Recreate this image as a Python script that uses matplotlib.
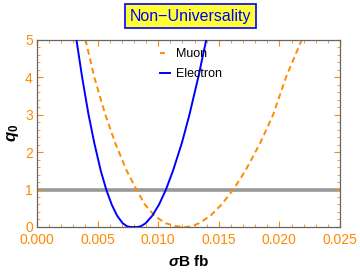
import matplotlib.pyplot as plt
from matplotlib.ticker import MultipleLocator

plt.rcParams['font.family'] = ['Liberation Sans', 'DejaVu Sans']
plt.rcParams['mathtext.fontset'] = 'custom'
plt.rcParams['mathtext.rm'] = 'Liberation Sans'
plt.rcParams['mathtext.it'] = 'Liberation Sans:italic'
plt.rcParams['mathtext.bf'] = 'Liberation Sans:bold'
plt.rcParams['mathtext.bfit'] = 'Liberation Sans:bold:italic'

# values
electron_x = [0.00325, 0.00372, 0.00425, 0.00472, 0.00526, 0.00571, 0.00616, 0.00661,
              0.00707, 0.00742, 0.00770, 0.00830, 0.00857, 0.00896, 0.00951, 0.01007,
              0.01064, 0.01122, 0.01196, 0.01258, 0.01331, 0.01397]
electron_q0 = [5.0, 4.0, 3.0, 2.25, 1.5, 1.0, 0.6, 0.3,
               0.1, 0.02, 0.0, 0.0, 0.02, 0.1, 0.3, 0.6,
               1.0, 1.5, 2.25, 3.0, 4.0, 5.0]

muon_x = [0.00400, 0.00472, 0.00563, 0.00644, 0.00740, 0.00820, 0.00890, 0.00970,
          0.01060, 0.01150, 0.01210, 0.01230, 0.01274, 0.01338, 0.01430, 0.01523,
          0.01620, 0.01719, 0.01843, 0.01949, 0.02055, 0.02185]
muon_q0 = [5.0, 4.0, 3.0, 2.25, 1.5, 1.0, 0.6, 0.3,
           0.1, 0.02, 0.0, 0.0, 0.02, 0.1, 0.3, 0.6,
           1.0, 1.5, 2.25, 3.0, 4.0, 5.0]

threshold = 1.0

orange = '#ff8a00'
frame = '#666666'

fig = plt.figure(figsize=(3.6, 2.73), dpi=100)
ax = fig.add_axes([0.1028, 0.1685, 0.8417, 0.6868])

ax.axhline(threshold, color='#999999', lw=2.6, zorder=1)
ax.plot(muon_x, muon_q0, color=orange, lw=1.4, ls=(0, (3, 2)), label='Muon', zorder=2)
ax.plot(electron_x, electron_q0, color='#0000ff', lw=1.4, label='Electron', zorder=3)

ax.set_xlim(0, 0.025)
ax.set_ylim(0, 5)
ax.xaxis.set_major_locator(MultipleLocator(0.005))
ax.xaxis.set_minor_locator(MultipleLocator(0.001))
ax.yaxis.set_major_locator(MultipleLocator(1))
ax.yaxis.set_minor_locator(MultipleLocator(0.2))
ax.xaxis.set_major_formatter(plt.FuncFormatter(lambda v, p: '%.3f' % v))

ax.tick_params(which='both', direction='in', top=True, right=True, colors=orange,
               labelcolor=orange, labelsize=10)
ax.tick_params(axis='x', pad=4.5)
ax.tick_params(axis='y', pad=3)
ax.tick_params(which='major', length=4, width=0.8)
ax.tick_params(which='minor', length=2.2, width=0.6)
for s in ax.spines.values():
    s.set_color(frame)
    s.set_linewidth(0.9)

ax.set_xlabel(r'$\mathbfit{\sigma}$B fb', fontweight='bold', fontsize=11, labelpad=5)
ax.set_ylabel(r'$\mathbfit{q}_{\mathbf{0}}$', fontsize=12, labelpad=3)

leg = ax.legend(loc='upper left', bbox_to_anchor=(0.405, 0.955), frameon=False,
                fontsize=9, handlelength=0.85, handletextpad=0.45, labelspacing=0.65,
                borderaxespad=0, borderpad=0)
leg.legend_handles[0].set_linestyle((0, (2.5, 10)))

fig.text(0.528, 0.941, 'Non\u2212Universality', ha='center', va='center', color='#0000ff',
         fontsize=11.5, bbox=dict(boxstyle='square,pad=0.3', fc='#ffff33', ec='#0000ff', lw=1.2))

plt.savefig('out.png', dpi=100)
